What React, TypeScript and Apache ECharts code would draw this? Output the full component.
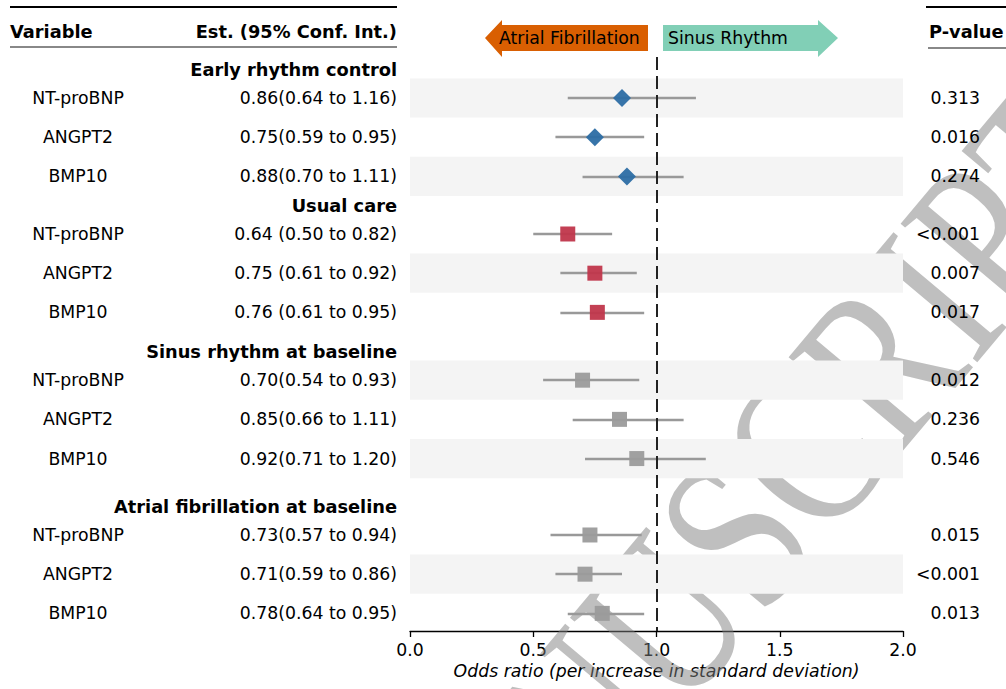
import React, { useEffect, useRef } from "react";
import * as echarts from "echarts";

// ---------- data ----------
const groups = [
  "Early rhythm control",
  "Usual care",
  "Sinus rhythm at baseline",
  "Atrial fibrillation at baseline",
];
const variables = ["NT-proBNP", "ANGPT2", "BMP10"];
const estimates = [0.86, 0.75, 0.88, 0.64, 0.75, 0.76, 0.70, 0.85, 0.92, 0.73, 0.71, 0.78];
const lower = [0.64, 0.59, 0.70, 0.50, 0.61, 0.61, 0.54, 0.66, 0.71, 0.57, 0.59, 0.64];
const upper = [1.16, 0.95, 1.11, 0.82, 0.92, 0.95, 0.93, 1.11, 1.20, 0.94, 0.86, 0.95];
const estLabels = [
  "0.86(0.64 to 1.16)", "0.75(0.59 to 0.95)", "0.88(0.70 to 1.11)",
  "0.64 (0.50 to 0.82)", "0.75 (0.61 to 0.92)", "0.76 (0.61 to 0.95)",
  "0.70(0.54 to 0.93)", "0.85(0.66 to 1.11)", "0.92(0.71 to 1.20)",
  "0.73(0.57 to 0.94)", "0.71(0.59 to 0.86)", "0.78(0.64 to 0.95)",
];
const pValues = [
  "0.313", "0.016", "0.274",
  "<0.001", "0.007", "0.017",
  "0.012", "0.236", "0.546",
  "0.015", "<0.001", "0.013",
];
const xTicks = [0, 0.5, 1.0, 1.5, 2.0];

// ---------- layout ----------
const FONT = "DejaVu Sans";
const FS = 17.3;
const FS_BOLD = 17.8;
const groupBase = [0, 3.47, 7.2, 11.15]; // vertical placement of each group (row units)
const HEADER_OFFSET = -0.72;
const Y_MIN = -1.046;
const Y_MAX = 13.6;
const groupStyle = [
  { symbol: "diamond", size: 18, color: "#2c6da4" },
  { symbol: "rect", size: 15, color: "#c0364b" },
  { symbol: "rect", size: 15, color: "#9b9b9b" },
  { symbol: "rect", size: 15, color: "#9b9b9b" },
];

export default function App() {
  const ref = useRef<HTMLDivElement>(null);

  useEffect(() => {
    document.body.style.margin = "0";
    if (!ref.current) return;
    const chart = echarts.init(ref.current, null, { renderer: "svg" });

    const rows: { g: number; k: number; i: number; pos: number }[] = [];
    groups.forEach((_, g) =>
      variables.forEach((_, k) => {
        const i = g * variables.length + k;
        rows.push({ g, k, i, pos: groupBase[g] + k });
      })
    );

    const textStyle = { fontFamily: FONT, fontSize: FS, color: "#000" };
    const boldText = (text: string, x: number, y: number, align: string) => ({
      type: "text",
      z: 7,
      x,
      y,
      style: { text, fontFamily: FONT, fontSize: FS_BOLD, fontWeight: "bold", fill: "#000", align, verticalAlign: "middle" },
    });

    const markerSeries = groups.map((_, g) => ({
      type: "scatter",
      xAxisIndex: 0,
      yAxisIndex: 0,
      z: 4,
      symbol: groupStyle[g].symbol,
      symbolSize: groupStyle[g].size,
      itemStyle: { color: groupStyle[g].color, opacity: 0.95 },
      data: rows.filter((r) => r.g === g).map((r) => [estimates[r.i], r.pos]),
    }));

    const textSeries = (data: any[], position: string, bold = false) => ({
      type: "scatter",
      xAxisIndex: 1,
      yAxisIndex: 1,
      z: 6,
      symbolSize: 0,
      silent: true,
      itemStyle: { opacity: 1 },
      data,
      label: {
        show: true,
        position,
        distance: 0,
        formatter: (p: any) => p.data[2],
        ...textStyle,
        fontSize: bold ? FS_BOLD : FS,
        opacity: 1,
        fontWeight: bold ? "bold" : "normal",
      },
    });

    const option: any = {
      animation: false,
      grid: [
        { left: 410, right: 103, top: 57, bottom: 58 },
        { left: 0, right: 0, top: 57, bottom: 58 },
      ],
      xAxis: [
        {
          gridIndex: 0,
          type: "value",
          min: xTicks[0],
          max: xTicks[xTicks.length - 1],
          interval: 0.5,
          axisLine: { onZero: false, lineStyle: { color: "#000", width: 1.3 } },
          axisTick: { length: 6, lineStyle: { color: "#000", width: 1.3 } },
          axisLabel: {
            formatter: (v: number) => v.toFixed(1),
            margin: 10,
            ...textStyle,
          },
          splitLine: { show: false },
          name: "Odds ratio (per increase in standard deviation)",
          nameLocation: "middle",
          nameGap: 30,
          nameTextStyle: { ...textStyle, fontStyle: "italic" },
        },
        { gridIndex: 1, type: "value", min: 0, max: 1006, show: false },
      ],
      yAxis: [
        { gridIndex: 0, type: "value", inverse: true, min: Y_MIN, max: Y_MAX, show: false },
        { gridIndex: 1, type: "value", inverse: true, min: Y_MIN, max: Y_MAX, show: false },
      ],
      graphic: [
        // watermark
        {
          type: "text",
          x: 722,
          y: 548,
          rotation: (50 * Math.PI) / 180,
          scaleX: 0.85,
          scaleY: 1.1,
          z: 1,
          silent: true,
          style: {
            text: "MANUSCRIPT",
            fontFamily: "Liberation Serif",
            fontSize: 205,
            fill: "rgba(128,128,128,0.5)",
            align: "center",
            verticalAlign: "middle",
          },
        },
        // table rules
        { type: "line", z: 7, shape: { x1: 10, y1: 7, x2: 397, y2: 7 }, style: { stroke: "#000", lineWidth: 2 } },
        { type: "line", z: 7, shape: { x1: 10, y1: 47, x2: 397, y2: 47 }, style: { stroke: "#888", lineWidth: 2 } },
        { type: "line", z: 7, shape: { x1: 926, y1: 7, x2: 1006, y2: 7 }, style: { stroke: "#000", lineWidth: 2 } },
        { type: "line", z: 7, shape: { x1: 928, y1: 48, x2: 1006, y2: 48 }, style: { stroke: "#888", lineWidth: 2 } },
        // column headers
        boldText("Variable", 10, 31, "left"),
        boldText("Est. (95% Conf. Int.)", 397, 31, "right"),
        boldText("P-value", 929, 31, "left"),
        // direction arrows
        {
          type: "polygon",
          z: 7,
          shape: { points: [[485, 38], [502, 20], [502, 25], [648, 25], [648, 51], [502, 51], [502, 57]] },
          style: { fill: "#d95f02" },
        },
        {
          type: "polygon",
          z: 7,
          shape: { points: [[663, 25], [818, 25], [818, 20], [838, 38], [818, 57], [818, 51], [663, 51]] },
          style: { fill: "#81cfb6" },
        },
        { type: "text", z: 8, x: 499, y: 38, style: { text: "Atrial Fibrillation", fontFamily: FONT, fontSize: FS, fill: "#000", align: "left", verticalAlign: "middle" } },
        { type: "text", z: 8, x: 668, y: 38, style: { text: "Sinus Rhythm", fontFamily: FONT, fontSize: FS, fill: "#000", align: "left", verticalAlign: "middle" } },
      ],
      series: [
        // alternating row bands
        {
          type: "scatter",
          xAxisIndex: 0,
          yAxisIndex: 0,
          z: 0,
          symbolSize: 0,
          silent: true,
          data: rows.map((r) => [1, r.pos]),
          markArea: {
            silent: true,
            itemStyle: { color: "#f4f4f4" },
            data: rows
              .filter((r) => r.i % 2 === 0)
              .map((r) => [{ yAxis: r.pos - 0.5 }, { yAxis: r.pos + 0.5 }]),
          },
        },
        // confidence intervals
        {
          type: "lines",
          coordinateSystem: "cartesian2d",
          xAxisIndex: 0,
          yAxisIndex: 0,
          z: 3,
          silent: true,
          lineStyle: { color: "#999", width: 2.4, opacity: 1 },
          data: rows.map((r) => ({ coords: [[lower[r.i], r.pos], [upper[r.i], r.pos]] })),
        },
        ...markerSeries,
        // reference line at OR = 1
        {
          type: "scatter",
          xAxisIndex: 0,
          yAxisIndex: 0,
          z: 5,
          symbolSize: 0,
          silent: true,
          data: [[1, 0]],
          markLine: {
            silent: true,
            symbol: "none",
            label: { show: false },
            lineStyle: { color: "#222", width: 2, type: [13, 6] },
            data: [{ xAxis: 1 }],
          },
        },
        // table texts
        textSeries(rows.map((r) => [78, r.pos, variables[r.k]]), "inside"),
        textSeries(rows.map((r) => [397, r.pos, estLabels[r.i]]), "left"),
        textSeries(groups.map((name, g) => [397, groupBase[g] + HEADER_OFFSET, name]), "left", true),
        textSeries(rows.map((r) => [980, r.pos, pValues[r.i]]), "left"),
      ],
    };

    chart.setOption(option);
    return () => chart.dispose();
  }, []);

  return <div ref={ref} style={{ width: 1006, height: 689 }} />;
}
